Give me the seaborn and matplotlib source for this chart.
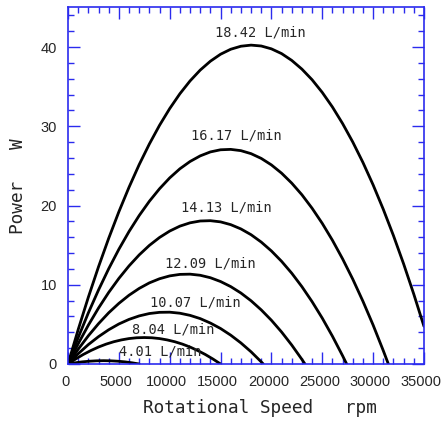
import seaborn as sns
import numpy as np
import matplotlib.pyplot as plt
import matplotlib.transforms as mtransforms
import pandas as pd

# flow rates (L/min) and the power curves
flows = ["18.42", "16.17", "14.13", "12.09", "10.07", "8.04", "4.01"]

rpm_grid = [0, 1000, 2000, 3000, 4000, 5000, 6000, 7000, 8000, 9000, 10000,
            11000, 12000, 13000, 14000, 15000, 16000, 17000, 18000, 19000, 20000,
            21000, 22000, 23000, 24000, 25000, 26000, 27000, 28000, 29000, 30000,
            31000, 32000, 33000, 34000, 35000]

pow_1842 = [0, 4.34, 8.43, 12.27, 15.86, 19.21, 22.31, 25.17, 27.77, 30.13, 32.24,
            34.11, 35.73, 37.10, 38.22, 39.10, 39.73, 40.11, 40.25, 40.14, 39.78,
            39.18, 38.32, 37.22, 35.88, 34.28, 32.44, 30.35, 28.02, 25.44, 22.61,
            19.53, 16.21, 12.64, 8.82, 4.76]

pow_1617 = [0, 3.33, 6.45, 9.34, 12.02, 14.48, 16.72, 18.74, 20.54, 22.12, 23.49,
            24.64, 25.56, 26.27, 26.77, 27.04, 27.09, 26.93, 26.55, 25.95, 25.13,
            24.09, 22.83, 21.36, 19.66, 17.75, 15.62, 13.27, 10.71, 7.92, 4.92,
            1.69]
end_1617 = 31500

pow_1413 = [0, 2.55, 4.90, 7.06, 9.03, 10.80, 12.38, 13.77, 14.97, 15.97, 16.78,
            17.40, 17.82, 18.05, 18.09, 17.94, 17.59, 17.05, 16.32, 15.39, 14.27,
            12.96, 11.46, 9.76, 7.87, 5.79, 3.51, 1.04]
end_1413 = 27400

pow_1209 = [0, 1.86, 3.56, 5.09, 6.46, 7.65, 8.68, 9.54, 10.24, 10.76, 11.12,
            11.31, 11.34, 11.20, 10.89, 10.41, 9.77, 8.96, 7.98, 6.83, 5.52,
            4.04, 2.39, 0.58]
end_1209 = 23300

pow_1007 = [0, 1.29, 2.45, 3.45, 4.32, 5.05, 5.63, 6.07, 6.37, 6.52, 6.54,
            6.41, 6.14, 5.73, 5.17, 4.48, 3.64, 2.66, 1.54, 0.27]
end_1007 = 19200

rpm_804 = [0, 750, 1500, 2250, 3000, 3750, 4500, 5250, 6000, 6750, 7500, 8250,
           9000, 9750, 10500, 11250, 12000, 12750, 13500, 14250, 15000]
pow_804 = [0, 0.63, 1.20, 1.70, 2.14, 2.51, 2.81, 3.04, 3.21, 3.31, 3.34, 3.31,
           3.21, 3.04, 2.81, 2.51, 2.14, 1.70, 1.20, 0.63, 0]

rpm_401 = [0, 700, 1400, 2100, 2800, 3500, 4200, 4900, 5600, 6300, 7000]
pow_401 = [0, 0.15, 0.27, 0.35, 0.40, 0.42, 0.40, 0.35, 0.27, 0.15, 0]

# label positions (data coords) for each curve
label_x = [18900, 16600, 15600, 14000, 12500, 10300, 9100]
label_y = [41.8, 28.9, 19.7, 12.7, 7.8, 4.3, 1.55]

curves = [
    (rpm_grid, pow_1842),
    (rpm_grid[:len(pow_1617)] + [end_1617], pow_1617 + [0]),
    (rpm_grid[:len(pow_1413)] + [end_1413], pow_1413 + [0]),
    (rpm_grid[:len(pow_1209)] + [end_1209], pow_1209 + [0]),
    (rpm_grid[:len(pow_1007)] + [end_1007], pow_1007 + [0]),
    (rpm_804, pow_804),
    (rpm_401, pow_401),
]

rows = []
for flow, (r, p) in zip(flows, curves):
    for a, b in zip(r, p):
        rows.append({"rpm": a, "power": b, "flow": flow})
df = pd.DataFrame(rows)

sns.set_style("ticks")
blue = "#2b2bee"
plt.rcParams["font.family"] = ["DejaVu Sans Mono", "DejaVu Sans"]

fig = plt.figure(figsize=(4.43, 4.21), dpi=100)
ax = fig.add_axes([0.1535, 0.1354, 0.8035, 0.8468])

sns.lineplot(data=df, x="rpm", y="power", hue="flow", hue_order=flows,
             palette=["black"] * len(flows), linewidth=2.0, legend=False,
             sort=False, estimator=None, ax=ax)

for flow, lx, ly in zip(flows, label_x, label_y):
    ax.text(lx, ly, f"{flow} L/min", ha="center", va="center", fontsize=9.8,
            family=["DejaVu Sans Mono"])

ax.set_xlim(0, 35000)
ax.set_ylim(0, 45)
ax.set_xticks(np.arange(0, 35001, 5000))
ax.set_xticks(np.arange(0, 35001, 1000), minor=True)
ax.set_yticks([0, 10, 20, 30, 40])
ax.set_yticks(np.arange(0, 45.1, 2), minor=True)

ax.tick_params(which="both", direction="in", top=True, right=True, color=blue,
               width=1.0)
ax.tick_params(which="major", length=8.5, pad=8)
ax.tick_params(which="minor", length=4.3)

tick_font = ["Liberation Sans", "DejaVu Sans"]
shift = mtransforms.ScaledTranslation(-0.03, 0, fig.dpi_scale_trans)
for lab in ax.get_xticklabels():
    lab.set_family(tick_font)
    lab.set_fontsize(10.5)
    lab.set_transform(lab.get_transform() + shift)
for lab in ax.get_yticklabels():
    lab.set_family(tick_font)
    lab.set_fontsize(10.5)

for s in ax.spines.values():
    s.set_color(blue)
    s.set_linewidth(1.2)

ax.set_xlabel("Rotational Speed   rpm", fontsize=12.8)
ax.set_ylabel("Power   W", fontsize=12.8)
ax.xaxis.set_label_coords(0.539, -0.098)
ax.yaxis.set_label_coords(-0.115, 0.5)

fig.savefig("out.png", dpi=100)
